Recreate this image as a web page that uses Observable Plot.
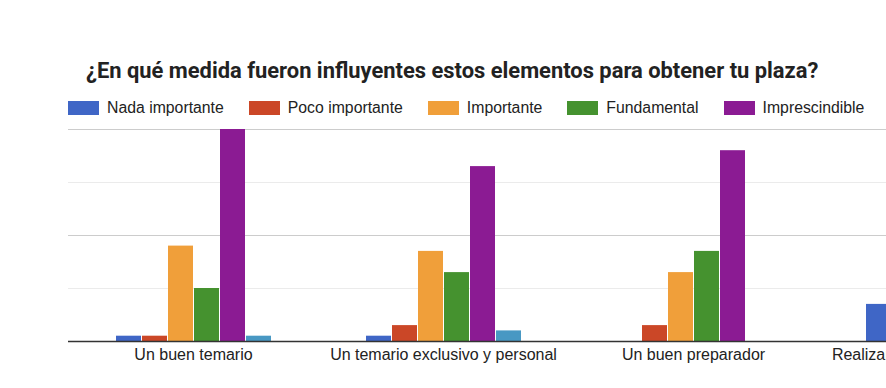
<!DOCTYPE html>
<html>
<head>
<meta charset="utf-8">
<script src="https://cdn.jsdelivr.net/npm/d3@7"></script>
<script src="https://cdn.jsdelivr.net/npm/@observablehq/plot@0.6"></script>
<style>
  html, body { margin: 0; padding: 0; background: #fff; overflow: hidden; }
  #root { position: relative; width: 886px; height: 388px; overflow: hidden; }
  #title { position: absolute; left: 86px; top: 56px; font-family: Roboto, "Liberation Sans", sans-serif; font-weight: 700; font-size: 21.9px; color: #222; white-space: nowrap; line-height: 30px; }
  #legend { position: absolute; left: 68px; top: 99px; display: flex; align-items: center; font-family: "Liberation Sans", Arial, sans-serif; font-size: 15.8px; color: #222; white-space: nowrap; }
  .item { display: flex; align-items: center; margin-right: 25px; }
  .sw { width: 31px; height: 14px; margin-right: 8px; }
  #chart { position: absolute; left: 0; top: 120px; }
  #chart svg { max-width: none !important; }
</style>
</head>
<body>
<div id="root">
  <div id="title"></div>
  <div id="legend"></div>
  <div id="chart"></div>
</div>
<script>
const titleText = "¿En qué medida fueron influyentes estos elementos para obtener tu plaza?";
const categories = ["Un buen temario", "Un temario exclusivo y personal", "Un buen preparador", "Realizar simulacros de examen"];
const series = ["Nada importante", "Poco importante", "Importante", "Fundamental", "Imprescindible", "Sin etiqueta"];
const legendSeries = ["Nada importante", "Poco importante", "Importante", "Fundamental", "Imprescindible"];
const colors = ["#3f66c6", "#cb4727", "#f09f3a", "#45922f", "#8b1b93", "#4898c3"];
const nadaImportante = [1, 1, 0, 7];
const pocoImportante = [1, 3, 3, 9];
const importante = [18, 17, 13, 17];
const fundamental = [10, 13, 17, 14];
const imprescindible = [40, 33, 36, 20];
const sinEtiqueta = [1, 2, 0, 2];
const yTicksMajor = [20, 40];
const yTicksMinor = [10, 30];

const values = [nadaImportante, pocoImportante, importante, fundamental, imprescindible, sinEtiqueta];
const data = [];
categories.forEach((c, i) => series.forEach((s, j) => data.push({category: c, series: s, value: values[j][i]})));

document.getElementById("title").textContent = titleText;
const lg = document.getElementById("legend");
legendSeries.forEach((s, j) => {
  const it = document.createElement("div"); it.className = "item";
  const sw = document.createElement("div"); sw.className = "sw"; sw.style.background = colors[j];
  const tx = document.createElement("span"); tx.textContent = s;
  it.appendChild(sw); it.appendChild(tx); lg.appendChild(it);
});

const chart = Plot.plot({
  width: 1100,
  height: 268,
  marginLeft: 68,
  marginRight: 32,
  marginTop: 9,
  marginBottom: 47,
  style: {fontFamily: "'Liberation Sans', Arial, sans-serif", background: "#fff", maxWidth: "none"},
  fx: {domain: categories, padding: 0, axis: null},
  x: {domain: series, axis: null, paddingInner: 0.04, paddingOuter: 1.8},
  y: {domain: [0, 40], axis: null},
  color: {domain: series, range: colors},
  marks: [
    Plot.ruleY(yTicksMinor, {stroke: "#ebebeb", strokeWidth: 1}),
    Plot.ruleY(yTicksMajor, {stroke: "#cccccc", strokeWidth: 1}),
    Plot.barY(data, {fx: "category", x: "series", y: "value", fill: "series"}),
    Plot.ruleY([0], {stroke: "#333", strokeWidth: 1.5}),
    Plot.axisFx({anchor: "bottom", tickSize: 0, tickPadding: 7, fontSize: 16, fill: "#222", label: null})
  ]
});
document.getElementById("chart").appendChild(chart);
</script>
</body>
</html>
